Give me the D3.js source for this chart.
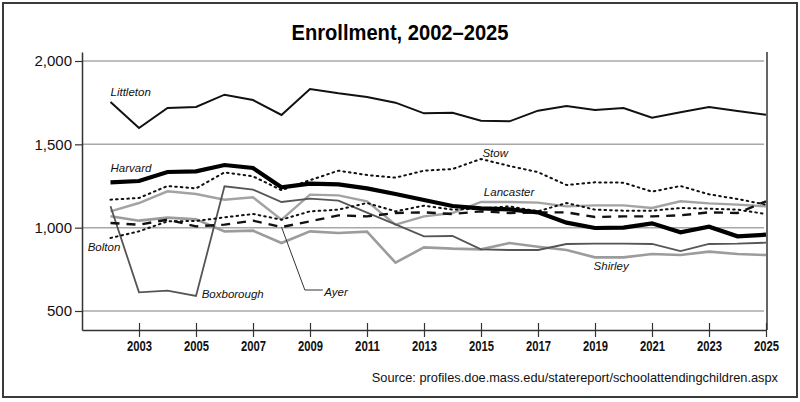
<!DOCTYPE html>
<html>
<head>
<meta charset="utf-8">
<script src="https://cdn.jsdelivr.net/npm/d3@7"></script>
<style>
  body { margin: 0; background: #fff; }
  svg { display: block; }
</style>
</head>
<body>
<svg id="chart" width="800" height="402"></svg>
<script>
var years = [2002,2003,2004,2005,2006,2007,2008,2009,2010,2011,2012,2013,2014,2015,2016,2017,2018,2019,2020,2021,2022,2023,2024,2025];

var littleton  = [1754,1598,1718,1724,1798,1766,1676,1832,1806,1784,1750,1686,1690,1642,1638,1702,1730,1706,1718,1660,1692,1724,1700,1678];
var harvard    = [1272,1280,1334,1338,1376,1358,1242,1264,1260,1236,1202,1166,1130,1116,1110,1092,1030,998,1000,1026,972,1006,948,958];
var stow       = [1168,1178,1250,1236,1332,1308,1225,1285,1342,1316,1300,1342,1352,1412,1370,1333,1256,1272,1270,1216,1250,1200,1172,1138];
var bolton     = [938,978,1038,1040,1062,1082,1048,1098,1108,1148,1098,1132,1108,1114,1128,1098,1148,1108,1102,1102,1118,1114,1108,1082];
var ayer       = [1028,1018,1048,1008,1018,1042,1004,1038,1074,1068,1088,1092,1082,1098,1088,1092,1092,1064,1068,1068,1074,1092,1088,1158];
var boxborough = [1128,612,622,590,1248,1228,1154,1174,1162,1090,1020,948,950,870,866,866,902,904,904,902,860,902,904,910];
var lancaster  = [1098,1148,1218,1202,1168,1182,1048,1198,1194,1158,1018,1068,1088,1154,1154,1150,1128,1134,1134,1118,1158,1146,1138,1128];
var shirley    = [1068,1042,1060,1050,978,982,908,978,968,976,790,882,874,870,908,886,866,822,822,842,836,856,842,836];

var yTicks = [500,1000,1500,2000];
var xTicks = [2003,2005,2007,2009,2011,2013,2015,2017,2019,2021,2023,2025];

// label anchors in data units (year, enrollment)
var labels = [
	{name: "Littleton",  year: 2002,   value: 1792},
	{name: "Harvard",    year: 2002,   value: 1334},
	{name: "Stow",       year: 2015.05, value: 1422},
	{name: "Lancaster",  year: 2015.1, value: 1190},
	{name: "Bolton",     year: 2001.2, value: 860},
	{name: "Boxborough", year: 2005.2, value: 580},
	{name: "Ayer",       year: 2009.5, value: 592},
	{name: "Shirley",    year: 2018.95, value: 746}
];
var ayerLeader = [[2008, 1004], [2008.82, 626], [2009.45, 626]];

var series = [
	{name: "Shirley",    values: shirley,    color: "#9c9c9c", width: 2.6, dash: null},
	{name: "Lancaster",  values: lancaster,  color: "#a3a3a3", width: 2.4, dash: null},
	{name: "Boxborough", values: boxborough, color: "#555",    width: 1.8, dash: null},
	{name: "Bolton",     values: bolton,     color: "#111",    width: 2,   dash: "1.6,4"},
	{name: "Stow",       values: stow,       color: "#111",    width: 2,   dash: "1.6,4"},
	{name: "Ayer",       values: ayer,       color: "#111",    width: 2.4, dash: "9,7"},
	{name: "Littleton",  values: littleton,  color: "#111",    width: 2,   dash: null},
	{name: "Harvard",    values: harvard,    color: "#000",    width: 4.2, dash: null}
];

var svg = d3.select("#chart"),
	sans = "'Liberation Sans', Arial, sans-serif",
	x = d3.scaleLinear().domain([2001, 2025]).range([82, 766]),
	y = d3.scaleLinear().domain([386, 2054]).range([330, 52]);

svg.append("rect")
	.attr("x", 3).attr("y", 3)
	.attr("width", 794).attr("height", 394)
	.attr("fill", "#fff")
	.attr("stroke", "#3a3a3a")
	.attr("stroke-width", 2);

svg.append("text")
	.attr("x", 400).attr("y", 40)
	.attr("text-anchor", "middle")
	.attr("textLength", 217)
	.attr("lengthAdjust", "spacingAndGlyphs")
	.style("font-family", sans)
	.style("font-weight", "bold")
	.style("font-size", "22px")
	.text("Enrollment, 2002\u20132025");

// gridlines
svg.append("g").selectAll("line")
	.data(yTicks)
	.enter().append("line")
	.attr("x1", x(2001)).attr("x2", x(2025) - 2)
	.attr("y1", function(d) { return y(d); })
	.attr("y2", function(d) { return y(d); })
	.attr("stroke", "#a8a8a8")
	.attr("stroke-width", 1.5);

// lines
var line = d3.line()
	.x(function(d, i) { return x(years[i]); })
	.y(function(d) { return y(d); });

series.forEach(function(s) {
	svg.append("path")
		.datum(s.values)
		.attr("d", line)
		.attr("fill", "none")
		.attr("stroke", s.color)
		.attr("stroke-width", s.width)
		.attr("stroke-dasharray", s.dash)
		.attr("stroke-linejoin", "miter")
		.attr("stroke-linecap", s.dash == "1.6,4" ? "round" : "butt");
});

svg.append("path")
	.attr("d", d3.line()(ayerLeader.map(function(p) { return [x(p[0]), y(p[1])]; })))
	.attr("fill", "none")
	.attr("stroke", "#333")
	.attr("stroke-width", 1);

// axes
var yAxis = svg.append("g")
	.attr("transform", "translate(" + x(2001) + ",0)")
	.call(d3.axisLeft(y).tickValues(yTicks).tickFormat(d3.format(",")).tickSizeInner(7).tickSizeOuter(0).tickPadding(3));
yAxis.select(".domain").attr("stroke", "#333").attr("stroke-width", 1.5);
yAxis.selectAll(".tick line").attr("stroke", "#333").attr("stroke-width", 1.2);
yAxis.selectAll(".tick text")
	.style("font-family", sans)
	.style("font-size", "15px")
	.attr("fill", "#111");

var xAxis = svg.append("g")
	.attr("transform", "translate(0," + y(386) + ")")
	.call(d3.axisBottom(x).tickValues(xTicks).tickFormat(d3.format("d")).tickSizeOuter(0));
xAxis.select(".domain").attr("stroke", "#333").attr("stroke-width", 1.5);
xAxis.selectAll(".tick line")
	.attr("y1", -7).attr("y2", 7)
	.attr("stroke", "#333").attr("stroke-width", 1.2);
xAxis.selectAll(".tick text")
	.attr("y", 21).attr("dy", 0)
	.attr("textLength", 25)
	.attr("lengthAdjust", "spacingAndGlyphs")
	.style("font-family", sans)
	.style("font-weight", "bold")
	.style("font-size", "14px")
	.attr("fill", "#111");

svg.append("line")
	.attr("x1", x(2025) + 1).attr("x2", x(2025) + 1)
	.attr("y1", y(2054)).attr("y2", y(386))
	.attr("stroke", "#333")
	.attr("stroke-width", 1.5);

// series labels
svg.append("g").selectAll("text")
	.data(labels)
	.enter().append("text")
	.attr("x", function(d) { return x(d.year); })
	.attr("y", function(d) { return y(d.value); })
	.style("font-family", sans)
	.style("font-style", "italic")
	.style("font-size", "11.5px")
	.attr("fill", "#111")
	.text(function(d) { return d.name; });

svg.append("text")
	.attr("x", 778).attr("y", 382)
	.attr("text-anchor", "end")
	.style("font-family", sans)
	.style("font-size", "12.8px")
	.attr("fill", "#111")
	.text("Source: profiles.doe.mass.edu/statereport/schoolattendingchildren.aspx");
</script>
</body>
</html>
